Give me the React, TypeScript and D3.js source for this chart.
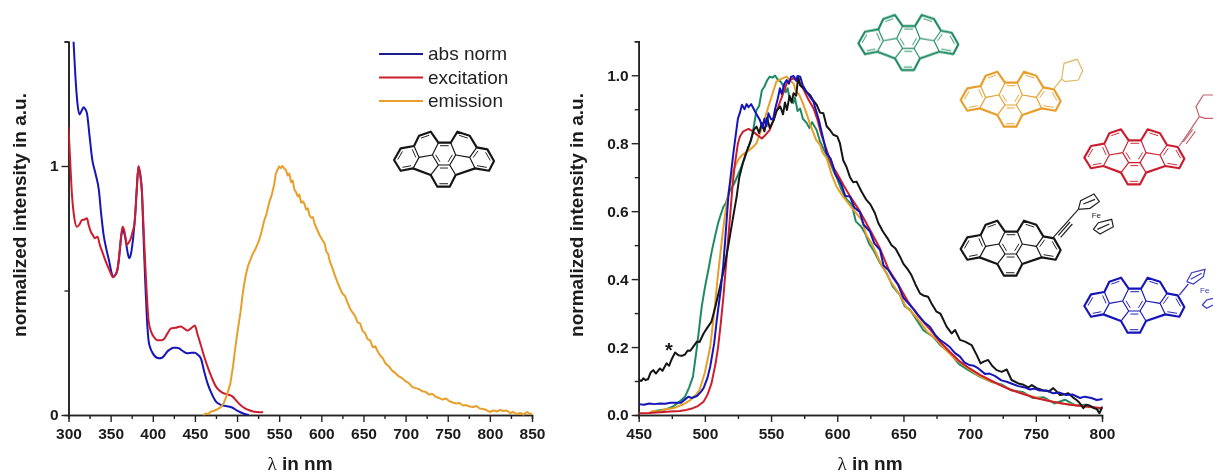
import React, { useRef, useEffect } from "react"
import * as d3 from "d3"

type Pt = [number, number]

// left panel, [nm, intensity]
const absNorm: Pt[] = [[306,1.5],[309,1.318],[311,1.24],[313,1.207],[316,1.225],[318,1.236],[320,1.228],[322,1.21],[325,1.12],[328,1.03],[332,.97],[336,.904],[339,.8],[342,.716],[345,.665],[348,.622],[351,.572],[353,.555],[355,.56],[357.5,.576],[360,.63],[362,.7],[364,.743],[366,.732],[367.5,.71],[370,.655],[372,.63],[374,.645],[375.5,.676],[377,.72],[379,.797],[381,.91],[383,.997],[385,.97],[387,.904],[389,.72],[391,.54],[393,.39],[395,.3],[397,.27],[399,.254],[402,.238],[405,.23],[408,.228],[411,.23],[414,.24],[417,.254],[421,.265],[425,.27],[428,.27],[431,.268],[436,.256],[441,.248],[446,.25],[450,.25],[453,.243],[457,.228],[461,.175],[465,.127],[470,.085],[475,.054],[480,.042],[486.5,.036],[490,.034],[494,.03],[499,.02],[504,.011],[509,.004],[514,0]]
const excitation: Pt[] = [[300,1.158],[302,1.02],[304,.89],[307,.79],[310,.756],[313,.765],[316,.783],[319,.785],[322,.79],[324,.762],[326.5,.736],[329,.722],[331,.71],[334.5,.716],[337,.685],[340,.656],[345,.61],[349,.578],[353,.553],[355,.56],[358,.582],[361,.67],[364,.756],[366,.743],[368,.705],[369,.683],[371,.69],[374,.71],[376,.735],[378.5,.776],[381,.9],[383,1],[385,.965],[387,.904],[389,.76],[391,.609],[393,.48],[395,.38],[398,.335],[401,.315],[404,.303],[407,.3],[410,.3],[413,.304],[417,.325],[422,.348],[427,.35],[433,.355],[437,.348],[441,.339],[446,.35],[450,.359],[453,.325],[457,.281],[461,.235],[465,.194],[470,.15],[475,.114],[479,.098],[482.5,.09],[488,.083],[494,.076],[499,.058],[504,.04],[509,.028],[514,.02],[519,.014],[524,.012],[531,.011]]
const emission: Pt[] = [[460,0],[463,.006],[466,.004],[469,.014],[472,.016],[476,.022],[480,.03],[484,.046],[488,.08],[492,.125],[495,.19],[498,.272],[501,.345],[504,.41],[507,.495],[510,.556],[513,.598],[516,.625],[519,.65],[522,.668],[526,.7],[529,.735],[532,.778],[535,.808],[538,.852],[541,.882],[544,.925],[546,.968],[548,.985],[550,.998],[552,.992],[554,1],[556,.99],[558,.985],[560,.962],[562,.97],[564,.935],[566,.942],[568,.905],[570,.895],[572,.878],[574,.885],[576,.852],[578,.858],[580,.848],[582,.825],[584,.83],[586,.802],[588,.792],[590,.795],[592,.768],[595,.745],[598,.722],[601,.705],[604,.688],[606,.655],[608,.648],[610,.618],[613,.592],[616,.562],[619,.535],[622,.51],[625,.488],[628,.478],[631,.452],[634,.428],[637,.412],[640,.398],[643,.372],[646,.368],[649,.338],[652,.328],[655,.305],[658,.3],[661,.272],[664,.276],[667,.255],[670,.238],[673,.228],[676,.208],[680,.196],[684,.178],[688,.168],[692,.155],[696,.148],[700,.135],[704,.128],[708,.112],[712,.108],[716,.104],[720,.095],[724,.092],[728,.082],[732,.084],[736,.072],[740,.068],[744,.062],[748,.066],[752,.055],[756,.05],[760,.046],[764,.048],[768,.038],[772,.04],[776,.034],[780,.032],[784,.036],[788,.026],[792,.024],[796,.02],[800,.012],[804,.018],[808,.014],[812,.02],[816,.016],[820,.018],[824,.008],[828,.012],[832,.004],[836,.008],[840,.002],[844,.012],[848,.004],[850,.006]]

// right panel, [nm, intensity]
const greenCurve: Pt[] = [[462,.012],[470,.016],[476,.025],[481,.04],[485,.054],[488,.08],[491,.113],[494,.2],[497.6,.319],[500,.375],[502.6,.427],[505,.478],[507.6,.525],[510,.565],[512,.59],[514,.613],[516,.625],[519,.662],[522,.68],[526.5,.721],[530,.755],[533,.79],[535,.81],[537,.85],[539,.898],[541,.91],[543,.955],[545,.967],[547,.985],[549,.996],[551,.993],[553,.999],[555,.988],[557,.982],[559,.971],[561,.95],[562.5,.962],[564,.93],[566.8,.918],[568,.935],[570,.895],[572,.902],[574,.872],[577,.859],[579,.845],[581,.862],[584.4,.839],[587,.805],[590,.78],[592,.765],[595,.74],[597,.72],[599.5,.7],[603,.665],[607,.635],[611,.618],[614,.57],[618,.555],[621,.535],[624,.505],[627.2,.486],[632,.45],[637.3,.417],[642,.378],[647.4,.353],[651,.32],[655,.31],[660,.28],[665,.25],[672.6,.23],[678,.205],[685,.182],[692,.15],[700,.13],[708,.112],[716,.098],[724,.09],[732,.072],[740,.068],[748,.05],[756,.052],[764,.034],[772,.045],[780,.028],[788,.03],[796,.018],[800,.02]]
const orangeCurve: Pt[] = [[458,.006],[461,.012],[465,.01],[469,.016],[476,.02],[483,.03],[489,.044],[493,.058],[496,.074],[500,.125],[504,.2],[507,.3],[510,.417],[513,.52],[515,.584],[518,.66],[521.5,.721],[525,.75],[528,.765],[532,.775],[536.6,.79],[539,.8],[541.6,.829],[545,.87],[548,.908],[551,.945],[554,.981],[558,.99],[561.8,.996],[564,.985],[567,.976],[569,.95],[571,.945],[574,.918],[577,.885],[580,.85],[584,.81],[587,.795],[589,.772],[592,.756],[596,.705],[599.5,.672],[604,.645],[608,.625],[612,.605],[618.4,.574],[622,.53],[626,.505],[632.3,.451],[636,.425],[640,.395],[647.4,.353],[652,.318],[657,.3],[662.5,.275],[668,.245],[675,.222],[682,.192],[690,.162],[698,.14],[706,.118],[714,.102],[722,.09],[730,.076],[738,.066],[746,.056],[754,.048],[762,.04],[770,.033],[778,.03],[786,.025],[794,.022],[800,.018]]
const redCurve: Pt[] = [[450,.005],[458,.006],[466,.008],[474,.01],[481,.012],[486,.015],[491,.02],[495,.027],[499,.039],[502,.06],[505,.093],[508,.15],[510,.2],[512,.27],[514,.348],[517,.49],[519,.584],[521,.68],[522.7,.74],[525,.8],[526.5,.82],[529,.835],[533,.842],[535,.838],[538,.829],[541,.82],[543,.814],[546,.825],[549,.839],[552,.87],[555.5,.908],[559,.945],[561.8,.976],[564,.985],[567,.991],[569,.985],[572,.976],[575,.955],[578,.93],[582,.903],[585,.87],[588,.825],[592,.78],[596,.735],[600,.71],[605,.675],[610,.642],[617,.6],[624.7,.545],[632.3,.49],[638.6,.43],[646,.385],[653.7,.332],[661.2,.292],[670,.252],[677.6,.216],[685,.186],[692.7,.157],[700,.137],[707.8,.118],[715.4,.103],[723,.088],[730.5,.075],[740.5,.062],[750.6,.049],[763,.039],[775.8,.03],[788.4,.025],[800.5,.02]]
const blackCurve: Pt[] = [[450,.103],[452,.1],[453.5,.108],[455,.103],[457,.105],[459,.125],[461,.132],[463,.122],[466,.137],[468,.13],[471,.152],[473,.145],[475,.165],[477.5,.184],[480,.176],[482.5,.174],[485,.178],[487,.19],[489,.189],[491,.2],[494,.216],[496,.215],[499,.24],[502,.258],[505,.275],[508,.32],[511.5,.378],[515,.44],[518,.505],[521,.575],[524,.643],[526,.7],[529,.746],[531,.77],[534,.8],[537,.84],[539,.849],[541,.83],[543,.86],[545,.835],[547,.875],[549,.845],[552,.868],[554,.895],[557,.908],[559,.885],[560.5,.92],[562,.898],[564,.94],[565.5,.92],[567,.947],[569,.94],[570.5,.996],[572,.97],[574.5,.962],[577,.95],[579.5,.942],[582,.925],[584.5,.913],[587,.89],[589.5,.888],[592,.85],[594.5,.839],[597,.825],[600,.82],[602,.8],[604.5,.75],[607,.73],[609.6,.7],[612,.685],[614.6,.687],[618,.66],[622,.633],[625,.62],[628.5,.594],[631,.565],[634.5,.54],[638,.52],[641,.5],[644,.49],[647.4,.466],[650,.445],[653,.43],[656,.412],[659,.385],[662.5,.358],[665,.352],[668.6,.348],[671,.33],[675,.304],[678,.298],[682.6,.26],[686.4,.24],[689,.25],[692.7,.221],[696.5,.216],[701.5,.206],[705.3,.177],[708.3,.152],[711,.158],[714,.162],[717,.145],[720.4,.132],[724.2,.127],[728,.134],[731.7,.103],[736.8,.093],[740,.09],[744.3,.081],[747,.088],[750.6,.079],[753,.076],[755.7,.072],[760,.07],[763.2,.079],[766,.068],[768.2,.059],[771,.06],[774.5,.064],[778,.052],[780.8,.044],[783,.036],[785.9,.02],[788,.03],[791,.027],[794,.02],[796,.018],[798,.005],[800.5,.025]]
const blueCurve: Pt[] = [[450,.032],[454,.03],[458,.034],[462,.032],[466,.034],[470,.033],[474,.036],[478.7,.036],[482,.036],[485,.046],[487.5,.054],[490,.05],[494,.056],[497,.068],[499,.079],[502,.11],[504,.142],[507,.21],[509,.28],[512,.37],[514,.446],[516,.55],[517.7,.643],[520,.72],[521.5,.77],[523.5,.83],[525,.873],[526.5,.89],[528,.913],[530,.9],[531.5,.915],[533,.906],[535,.915],[536.6,.903],[539,.885],[541.6,.868],[543.5,.845],[545,.872],[546.5,.85],[548,.888],[550,.87],[551.7,.873],[553,.9],[555,.93],[556.7,.962],[558,.945],[560,.975],[561.8,.986],[563.5,.975],[565,.995],[567,.998],[569,.985],[570,.998],[572,.996],[574,.97],[577,.95],[582,.922],[586,.87],[589,.82],[592,.77],[595,.755],[597,.731],[598.3,.711],[600,.7],[603.3,.677],[606,.645],[609.6,.643],[613,.61],[617,.598],[620,.56],[624.7,.54],[628,.505],[632.3,.486],[635,.44],[638.6,.427],[642,.405],[646,.383],[650,.345],[653.7,.329],[658,.31],[661.2,.294],[666,.272],[670,.26],[674,.236],[677.6,.221],[681,.212],[685,.2],[689,.182],[692.7,.172],[696,.155],[700,.147],[703,.145],[706.6,.137],[711.6,.121],[715,.122],[719,.115],[724,.102],[728,.098],[732,.092],[736.8,.085],[741,.082],[745.6,.075],[749,.078],[753,.072],[758,.072],[763,.064],[768,.066],[773,.059],[778,.06],[783.4,.05],[787,.054],[792,.05],[796,.044],[800.5,.047]]

const leftTicks = [300, 350, 400, 450, 500, 550, 600, 650, 700, 750, 800, 850]
const rightTicks = [450, 500, 550, 600, 650, 700, 750, 800]
const leftYTicks = [0, 1]
const rightYTicks = [0, 0.2, 0.4, 0.6, 0.8, 1.0]
const legendNames = ["abs norm", "excitation", "emission"]

const cBlue = "#1616b8"
const cRed = "#cc1f2e"
const cOrange = "#e89f2c"
const cGreen = "#1f8a62"
const cBlack = "#141414"

// molecule skeleton, traced on a 3x grid
const ring: Pt[] = [[55,130],[75,95],[115,88],[130,57],[165,45],[188,78],[225,78],[245,45],[282,57],[303,92],[335,98],[355,133],[340,162],[298,155],[240,175],[222,210],[185,210],[165,175],[112,155],[75,162]]
const bonds: Pt[][] = [[[115,88],[130,122],[112,155]],[[130,122],[170,115]],[[188,78],[170,115],[188,145],[222,145],[240,115],[225,78]],[[240,115],[282,122]],[[303,92],[282,122],[298,155]],[[188,145],[165,175]],[[222,145],[240,175]]]
const doubles: [Pt, Pt, Pt][] = [[[55,130],[75,95],[92,125]],[[115,88],[130,122],[92,125]],[[112,155],[75,162],[92,125]],[[130,57],[165,45],[150,90]],[[188,78],[225,78],[205,112]],[[170,115],[188,145],[205,112]],[[240,115],[222,145],[205,112]],[[188,145],[222,145],[205,178]],[[185,210],[222,210],[205,178]],[[245,45],[282,57],[262,90]],[[303,92],[282,122],[318,127]],[[335,98],[355,133],[318,127]],[[340,162],[298,155],[318,127]]]

const phenyl: Pt[][] = [[[640,268],[665,237]],[[665,237],[672,190],[712,178],[728,212],[715,240],[675,245],[665,237]]]
const alkynePhenyl: Pt[][] = [[[1018,438],[1078,350]],[[1030,426],[1058,388]],[[1038,432],[1066,394]],[[1078,350],[1095,355],[1119,355]],[[1078,350],[1068,320],[1090,285],[1119,285]]]
const alkyneFc: Pt[][] = [[[640,712],[715,628]],[[655,706],[690,666]],[[662,712],[697,672]],[[715,628],[722,602],[762,582],[778,605],[750,625],[715,628]],[[730,612],[765,598]],[[760,688],[780,702],[820,680],[815,658],[775,668],[760,688]],[[772,688],[808,672]]]
const blueFc: Pt[][] = [[[1018,885],[1045,852]],[[1040,845],[1055,818],[1095,808],[1090,830],[1060,852],[1040,845]],[[1052,838],[1085,820]],[[1087,915],[1100,925],[1119,915]],[[1087,915],[1100,900],[1119,895]]]

function App() {
  const ref = useRef<SVGSVGElement>(null)

  useEffect(() => {
    const svg = d3.select(ref.current)
    svg.selectAll("*").remove()
    const defs = svg.append("defs")
    defs.append("filter").attr("id", "soft").append("feGaussianBlur").attr("stdDeviation", 0.45)
    const root = svg.append("g").attr("filter", "url(#soft)")

    const xLeft = d3.scaleLinear().domain([300, 850]).range([68.5, 532])
    const yLeft = d3.scaleLinear().domain([0, 1.5]).range([415, 41.5])
    const xRight = d3.scaleLinear().domain([450, 800]).range([638.7, 1102])
    const yRight = d3.scaleLinear().domain([0, 1.1]).range([415, 41.3])

    defs.append("clipPath").attr("id", "clipLeft").append("rect")
      .attr("x", 68.5).attr("y", 41.5).attr("width", 464).attr("height", 374)
    defs.append("clipPath").attr("id", "clipRight").append("rect")
      .attr("x", 638.7).attr("y", 41.3).attr("width", 464).attr("height", 376)

    const drawAxes = (x: any, y: any, xMajor: number[], xMinor: number[], yMajor: number[], yMinor: number[], yFmt: any) => {
      const style = (g: any) => {
        g.selectAll("path.domain").attr("stroke", "#222").attr("stroke-width", 1.6)
        g.selectAll("line").attr("stroke", "#222").attr("stroke-width", 1.4)
        g.selectAll("text").attr("font-family", "Liberation Sans, Arial, sans-serif")
          .attr("font-weight", "bold").attr("font-size", 15.5).attr("fill", "#1a1a1a")
      }
      root.append("g").attr("transform", "translate(0,415)")
        .call(d3.axisBottom(x).tickValues(xMinor).tickSize(4).tickFormat(() => "")).call(style)
      root.append("g").attr("transform", "translate(0,415)")
        .call(d3.axisBottom(x).tickValues(xMajor).tickSize(7).tickSizeOuter(0).tickPadding(6).tickFormat(d3.format("d"))).call(style)
      root.append("g").attr("transform", `translate(${x.range()[0]},0)`)
        .call(d3.axisLeft(y).tickValues(yMinor).tickSize(4).tickFormat(() => "")).call(style)
      root.append("g").attr("transform", `translate(${x.range()[0]},0)`)
        .call(d3.axisLeft(y).tickValues(yMajor).tickSize(7).tickSizeOuter(0).tickPadding(3).tickFormat(yFmt)).call(style)
    }
    drawAxes(xLeft, yLeft, leftTicks, [325, 375, 425, 475, 525, 575, 625, 675, 725, 775, 825], leftYTicks, [0.5, 1.5], d3.format("d"))
    drawAxes(xRight, yRight, rightTicks, [475, 525, 575, 625, 675, 725, 775], rightYTicks, [0.1, 0.3, 0.5, 0.7, 0.9, 1.1], d3.format(".1f"))

    const drawCurve = (rows: Pt[], x: any, y: any, color: string, clip: string, smooth: boolean) => {
      const line = d3.line<Pt>().x(d => x(d[0])).y(d => y(d[1]))
      if (smooth) line.curve(d3.curveMonotoneX)
      root.append("path").attr("d", line(rows)).attr("fill", "none")
        .attr("stroke", color).attr("stroke-width", 2).attr("stroke-linejoin", "round")
        .attr("clip-path", `url(#${clip})`)
    }
    drawCurve(absNorm, xLeft, yLeft, cBlue, "clipLeft", true)
    drawCurve(excitation, xLeft, yLeft, cRed, "clipLeft", true)
    drawCurve(emission, xLeft, yLeft, cOrange, "clipLeft", false)

    drawCurve(greenCurve, xRight, yRight, cGreen, "clipRight", false)
    drawCurve(orangeCurve, xRight, yRight, cOrange, "clipRight", false)
    drawCurve(redCurve, xRight, yRight, cRed, "clipRight", false)
    drawCurve(blackCurve, xRight, yRight, cBlack, "clipRight", false)
    drawCurve(blueCurve, xRight, yRight, cBlue, "clipRight", false)

    // legend
    const legendColors = ["#1a1a8a", cRed, cOrange]
    legendNames.forEach((name, i) => {
      const y = 54 + i * 23.5
      root.append("line").attr("x1", 379).attr("x2", 423).attr("y1", y).attr("y2", y)
        .attr("stroke", legendColors[i]).attr("stroke-width", 1.8)
      root.append("text").attr("x", 428).attr("y", y + 6).text(name)
        .attr("font-family", "Liberation Sans, Arial, sans-serif").attr("font-size", 19).attr("fill", "#222")
    })

    // axis titles
    const yTitle = (x: number) =>
      root.append("text").attr("transform", `translate(${x},215) rotate(-90)`)
        .attr("text-anchor", "middle").text("normalized intensity in a.u.")
        .attr("font-family", "Liberation Sans, Arial, sans-serif").attr("font-weight", "bold")
        .attr("font-size", 19).attr("fill", "#1a1a1a")
    yTitle(26)
    yTitle(583)
    const xTitle = (x: number) => {
      const t = root.append("text").attr("x", x).attr("y", 470).attr("text-anchor", "middle")
        .attr("font-family", "Liberation Sans, Arial, sans-serif").attr("font-weight", "bold")
        .attr("font-size", 19).attr("fill", "#1a1a1a")
      t.append("tspan").attr("font-family", "Liberation Serif, serif").attr("font-weight", "normal").text("λ")
      t.append("tspan").text(" in nm")
    }
    xTitle(300)
    xTitle(870)

    root.append("text").attr("x", 669).attr("y", 357).attr("text-anchor", "middle").text("*")
      .attr("font-family", "Liberation Sans, Arial, sans-serif").attr("font-weight", "bold")
      .attr("font-size", 20).attr("fill", "#1a1a1a")

    // molecules
    const poly = d3.line<Pt>()
    const drawMolecule = (color: string, dx: number, dy: number, extra: Pt[][], extraColor: string, fe?: Pt) => {
      const g = root.append("g").attr("transform", `translate(${840 + dx},${dy}) scale(${1 / 3})`)
        .attr("fill", "none").attr("stroke", color).attr("stroke-linejoin", "round")
      g.append("path").attr("d", poly(ring) + "Z").attr("stroke-width", 6.5)
      bonds.forEach(b => g.append("path").attr("d", poly(b)).attr("stroke-width", 3.4))
      doubles.forEach(([a, b, c]) => {
        const shift = (p: Pt): Pt => {
          const cx = (a[0] + b[0]) / 2
          const cy = (a[1] + b[1]) / 2
          const len = Math.hypot(c[0] - cx, c[1] - cy)
          const mx = cx + ((p[0] - cx) * 0.7) + ((c[0] - cx) / len) * 9
          const my = cy + ((p[1] - cy) * 0.7) + ((c[1] - cy) / len) * 9
          return [mx, my]
        }
        g.append("path").attr("d", poly([shift(a), shift(b)])).attr("stroke-width", 2.8)
      })
      extra.forEach(e => {
        root.append("path").attr("d", poly(e.map(p => [840 + p[0] / 3, p[1] / 3] as Pt)))
          .attr("fill", "none").attr("stroke", extraColor).attr("stroke-width", 1.2)
      })
      if (fe) {
        root.append("text").attr("x", 840 + fe[0] / 3).attr("y", fe[1] / 3).text("Fe")
          .attr("font-family", "Liberation Sans, Arial, sans-serif").attr("font-size", 8).attr("fill", extraColor)
      }
    }
    drawMolecule(cGreen, 0, 0, [], cGreen)
    drawMolecule(cOrange, 102.3, 56.7, phenyl, "#e2b765")
    drawMolecule(cRed, 226, 114.3, alkynePhenyl, "#c4606a")
    drawMolecule(cBlack, 102.3, 205.7, alkyneFc, "#222", [755, 654])
    drawMolecule(cBlue, 226, 262.7, blueFc, "#3a3ac0", [1080, 878])
    drawMolecule(cBlack, -464.3, 116.7, [], cBlack)
  }, [])

  return (
    <svg ref={ref} width={1213} height={475}
      style={{ position: "absolute", left: 0, top: 0, display: "block", background: "#fff" }} />
  )
}

export default App
